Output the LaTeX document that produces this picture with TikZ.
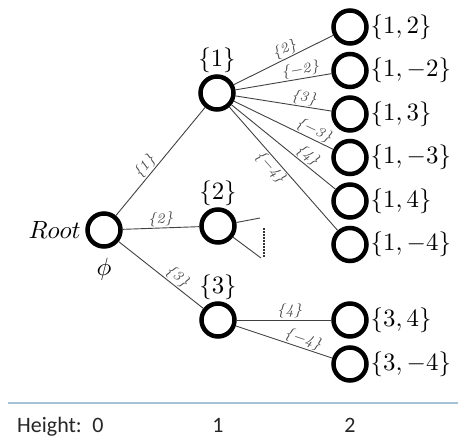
\documentclass[tikz,border=0pt]{standalone}
\usepackage{fontspec}
\newfontfamily\calibri{Carlito}
\definecolor{rulecol}{RGB}{165,195,215}
\definecolor{edgecol}{RGB}{65,65,65}
\definecolor{elabcol}{RGB}{75,75,75}
\tikzset{
  tnode/.style={circle, draw=black, line width=4.5pt, minimum size=33pt, inner sep=0pt},
  bigtxt/.style={font=\normalsize, scale=2.49, transform shape, inner sep=0.6pt},
  edge/.style={draw=edgecol, line width=0.9pt},
  elab/.style={font=\fontsize{7}{8}\selectfont\itshape, text=elabcol, scale=2.05, transform shape, inner sep=0.3pt, sloped},
  heightlab/.style={font=\fontsize{22}{26}\selectfont\calibri, text=black!85, inner sep=0pt}
}
\begin{document}
\begin{tikzpicture}[x=1pt,y=-1pt]
\useasboundingbox (0,0) rectangle (458,438);
% nodes
\node[tnode, label={[bigtxt,label distance=1pt]left:$Root$}, label={[bigtxt,label distance=3pt]below:$\phi$}] (root) at (104,230) {};
\node[tnode, label={[bigtxt,label distance=0pt]above:$\{1\}$}] (n1) at (217,93) {};
\node[tnode, label={[bigtxt,label distance=0pt]above:$\{2\}$}] (n2) at (218,226) {};
\node[tnode, label={[bigtxt,label distance=0pt]above:$\{3\}$}] (n3) at (218,320) {};
\node[tnode, label={[bigtxt,label distance=0pt]right:$\{1,2\}$}] (l12) at (350,27) {};
\node[tnode, label={[bigtxt,label distance=0pt]right:$\{1,-2\}$}] (l1m2) at (350,70.5) {};
\node[tnode, label={[bigtxt,label distance=0pt]right:$\{1,3\}$}] (l13) at (350,114) {};
\node[tnode, label={[bigtxt,label distance=0pt]right:$\{1,-3\}$}] (l1m3) at (350,157.5) {};
\node[tnode, label={[bigtxt,label distance=0pt]right:$\{1,4\}$}] (l14) at (350,201) {};
\node[tnode, label={[bigtxt,label distance=0pt]right:$\{1,-4\}$}] (l1m4) at (350,244.5) {};
\node[tnode, label={[bigtxt,label distance=0pt]right:$\{3,4\}$}] (l34) at (350,320) {};
\node[tnode, label={[bigtxt,label distance=0pt]right:$\{3,-4\}$}] (l3m4) at (350,364) {};
% stubs of node {2}
\coordinate (s1) at (260,218);
\coordinate (s2) at (261,258);
\coordinate (d1) at (264,228);
\coordinate (d2) at (264,257);
% edges
\draw[edge] (root) -- node[elab, above, pos=0.40] {\{1\}} (n1);
\draw[edge] (root) -- node[elab, above, pos=0.50] {\{2\}} (n2);
\draw[edge] (root) -- node[elab, above, pos=0.63] {\{3\}} (n3);
\draw[edge] (n1) -- node[elab, above, pos=0.55] {\{2\}} (l12);
\draw[edge] (n1) -- node[elab, above, pos=0.69] {\{\textminus2\}} (l1m2);
\draw[edge] (n1) -- node[elab, above, pos=0.70] {\{3\}} (l13);
\draw[edge] (n1) -- node[elab, above, pos=0.77] {\{\textminus3\}} (l1m3);
\draw[edge] (n1) -- node[elab, above, pos=0.68] {\{4\}} (l14);
\draw[edge] (n1) -- node[elab, below, pos=0.44] {\{\textminus4\}} (l1m4);
\draw[edge] (n3) -- node[elab, above, pos=0.56] {\{4\}} (l34);
\draw[edge] (n3) -- node[elab, above, pos=0.67] {\{\textminus4\}} (l3m4);
\draw[edge] (n2) -- (s1);
\draw[edge] (n2) -- (s2);
\draw[line width=1.6pt, dash pattern=on 1.6pt off 1.4pt, black!80] (d1) -- (d2);
% height axis
\coordinate (r1) at (8,403);
\coordinate (r2) at (458,403);
\draw[rulecol, line width=1.5pt] (r1) -- (r2);
\node[heightlab, anchor=base west] (hl) at (17,432) {Height:};
\node[heightlab, anchor=base] (h0) at (98,432) {0};
\node[heightlab, anchor=base] (h1) at (218,432) {1};
\node[heightlab, anchor=base] (h2) at (350,432) {2};
\end{tikzpicture}
\end{document}
